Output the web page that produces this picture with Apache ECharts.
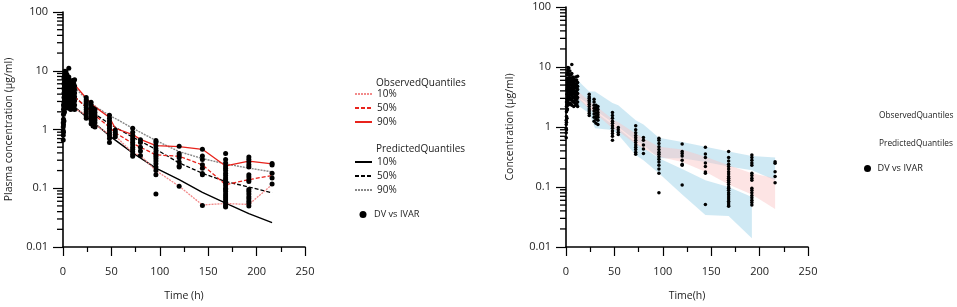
<!DOCTYPE html>
<html style="height: 100%">
<head>
    <meta charset="utf-8">
</head>
<body style="height: 100%; margin: 0; background: #fff">
<div id="container" style="width: 957px; height: 307px"></div>
<script type="text/javascript" src="https://cdn.jsdelivr.net/npm/echarts@6/dist/echarts.min.js"></script>
<script type="text/javascript">
  // observed concentrations (DV) per sampling time (IVAR)
  const obsTimes = [0.25, 0.5, 1, 1.5, 2, 3, 4, 5, 6, 7, 8, 9, 10, 11, 12,
    24, 29, 31, 33, 48, 54, 72, 80, 96, 120, 144, 168, 192, 216];
  const obsConc = [
    [0.66, 0.8, 0.95, 1.1, 1.3],
    [0.9, 1.2, 1.5, 1.8, 2.2, 2.6],
    [1.4, 1.9, 2.4, 2.9, 3.5, 4.2, 5.0, 6.0, 7.5],
    [2.0, 2.6, 3.2, 3.9, 4.6, 5.5, 6.5, 8.0],
    [2.3, 2.8, 3.4, 4.0, 4.7, 5.4, 6.3, 7.4, 8.8, 9.8],
    [2.4, 2.9, 3.3, 3.8, 4.3, 4.9, 5.6, 6.4, 7.3, 8.5, 9.6],
    [2.5, 3.0, 3.5, 4.0, 4.5, 5.1, 5.8, 6.6, 7.6, 8.6],
    [2.4, 2.9, 3.4, 3.9, 4.4, 5.0, 5.7, 6.5, 7.4],
    [2.3, 2.8, 3.3, 3.8, 4.3, 4.9, 5.6, 6.4, 7.8, 11.0],
    [2.6, 3.1, 3.6, 4.1, 4.7, 5.3, 6.0, 6.8],
    [2.2, 2.7, 3.2, 3.7, 4.2, 4.8, 5.5, 6.3],
    [2.5, 3.0, 3.5, 4.0, 4.6, 5.2, 6.0],
    [2.3, 2.8, 3.3, 3.9, 4.5, 5.1, 5.9, 6.8],
    [2.4, 2.9, 3.4, 4.0, 4.6, 5.3, 6.1],
    [2.2, 2.6, 3.1, 3.6, 4.2, 4.8, 5.5, 7.0],
    [1.55, 1.7, 1.85, 2.0, 2.2, 2.4, 2.6, 2.8, 3.0, 3.2, 3.5],
    [1.25, 1.45, 1.65, 1.85, 2.05, 2.3, 2.6, 2.9],
    [1.15, 1.35, 1.5, 1.7, 1.9, 2.1, 2.3],
    [1.1, 1.3, 1.45, 1.6, 1.75, 1.95, 2.2],
    [0.6, 0.7, 0.78, 0.86, 0.95, 1.05, 1.15, 1.25, 1.4, 1.55, 1.75],
    [0.75, 0.82, 0.9, 0.98],
    [0.35, 0.38, 0.42, 0.46, 0.5, 0.55, 0.6, 0.66, 0.72, 0.8, 0.9, 1.05],
    [0.36, 0.43, 0.5, 0.6, 0.67],
    [0.08, 0.17, 0.2, 0.23, 0.26, 0.29, 0.32, 0.35, 0.38, 0.42, 0.47, 0.53, 0.6, 0.65],
    [0.108, 0.23, 0.24, 0.28, 0.33, 0.36, 0.39, 0.52],
    [0.051, 0.169, 0.178, 0.22, 0.25, 0.31, 0.355, 0.46],
    [0.048, 0.05, 0.054, 0.058, 0.063, 0.068, 0.074, 0.08, 0.088, 0.095, 0.1, 0.11, 0.12,
      0.13, 0.14, 0.15, 0.165, 0.18, 0.2, 0.22, 0.24, 0.27, 0.31, 0.39],
    [0.05, 0.055, 0.06, 0.066, 0.072, 0.08, 0.088, 0.095, 0.13, 0.14, 0.155, 0.17, 0.23,
      0.25, 0.28, 0.31, 0.34],
    [0.118, 0.149, 0.18, 0.248, 0.264]
  ];

  // observed quantile lines
  const obsQTimes = [12, 24, 32, 48, 54, 72, 80, 96, 120, 144, 168, 192, 216];
  const obsQ10 = [2.3, 1.75, 1.25, 0.82, 0.78, 0.4, 0.36, 0.2, 0.108, 0.052, 0.055, 0.053, 0.115];
  const obsQ50 = [3.6, 2.4, 1.8, 1.1, 0.88, 0.58, 0.5, 0.37, 0.35, 0.25, 0.115, 0.14, 0.165];
  const obsQ90 = [5.8, 3.4, 2.5, 1.6, 1.05, 0.82, 0.68, 0.53, 0.51, 0.46, 0.24, 0.29, 0.26];

  // predicted quantile lines
  const predQTimes = [12, 24, 36, 48, 72, 96, 120, 144, 168, 192, 216];
  const predQ10 = [2.4, 1.65, 1.15, 0.78, 0.4, 0.22, 0.14, 0.085, 0.056, 0.037, 0.026];
  const predQ50 = [3.6, 2.4, 1.7, 1.25, 0.74, 0.46, 0.27, 0.18, 0.13, 0.105, 0.083];
  const predQ90 = [5.2, 3.3, 2.3, 1.75, 1.05, 0.65, 0.42, 0.32, 0.26, 0.22, 0.19];

  // confidence bands (right panel)
  const bandTimes = [12, 24, 30, 48, 54, 72, 80, 96, 120, 144, 168, 192, 216];
  const upperHi = [6.0, 3.9, 3.9, 2.5, 2.3, 1.3, 1.1, 0.66, 0.56, 0.47, 0.39, 0.33, 0.31];
  const upperLo = [3.2, 2.4, 1.9, 1.2, 1.0, 0.6, 0.5, 0.3, 0.3, 0.26, 0.22, 0.19, 0.13];
  const medHi = [4.0, 2.7, 2.3, 1.35, 1.2, 0.78, 0.65, 0.47, 0.42, 0.32, 0.23, 0.17, 0.14];
  const medLo = [3.0, 2.0, 1.7, 0.95, 0.85, 0.52, 0.44, 0.32, 0.26, 0.18, 0.11, 0.075, 0.043];
  const lowTimes = [12, 24, 30, 48, 54, 72, 80, 96, 120, 144, 168, 192];
  const lowerHi = [3.2, 2.1, 1.8, 1.1, 0.95, 0.55, 0.45, 0.3, 0.2, 0.13, 0.1, 0.068];
  const lowerLo = [2.3, 1.7, 0.95, 0.89, 0.74, 0.34, 0.28, 0.17, 0.075, 0.034, 0.033, 0.014];

  const xTicks = [0, 50, 100, 150, 200, 250];
  const yDecades = [0.01, 0.1, 1, 10];

  const FONT = 'Open Sans';
  const RED = '#e8231c';

  const scatterData = [];
  obsTimes.forEach((t, i) => {
    obsConc[i].forEach(v => scatterData.push([t, v]));
  });

  // log minor ticks 2..9 in every decade
  const minorVals = [];
  yDecades.forEach(d => {
    for (let k = 2; k <= 9; k++) minorVals.push(+(d * k).toPrecision(3));
  });

  function pairs(times, vals) {
    return times.map((t, i) => [t, vals[i]]);
  }

  function xAxisOpt(idx, name) {
    return {
      gridIndex: idx, type: 'value', min: 0, max: 250, interval: 50,
      name: name, nameLocation: 'middle', nameGap: 44,
      nameTextStyle: { fontFamily: FONT, fontSize: 10.5, color: '#222' },
      axisLine: { onZero: false, lineStyle: { color: '#000', width: 1.6 } },
      axisTick: { length: 9, lineStyle: { color: '#000', width: 1.2 } },
      minorTick: { show: true, splitNumber: 2, length: 5, lineStyle: { color: '#000', width: 1.2 } },
      axisLabel: { fontFamily: FONT, fontSize: 11, color: '#222', margin: 19,
        formatter: v => xTicks.indexOf(v) >= 0 ? String(v) : '' },
      splitLine: { show: false }
    };
  }

  function yAxisOpt(idx, name, gap) {
    return {
      gridIndex: idx, type: 'log', logBase: 10, min: 0.01, max: 100,
      name: name, nameLocation: 'middle', nameGap: gap,
      nameTextStyle: { fontFamily: FONT, fontSize: 10.5, color: '#222' },
      axisLine: { lineStyle: { color: '#000', width: 1.6 } },
      axisTick: { length: 10, lineStyle: { color: '#000', width: 1.2 } },
      axisLabel: { fontFamily: FONT, fontSize: 11, color: '#222', margin: 15 },
      splitLine: { show: false }
    };
  }

  // short ticks left of each y axis, one per minor value
  function minorTickSeries(idx) {
    return {
      type: 'scatter', xAxisIndex: idx, yAxisIndex: idx, silent: true, clip: false, z: 10,
      data: minorVals.map(v => [0, v]),
      symbol: 'rect', symbolSize: [6, 1.3], symbolOffset: [-3, 0],
      itemStyle: { color: '#000', opacity: 1 }
    };
  }

  function bandSeries(times, lo, hi, color) {
    return {
      type: 'custom', xAxisIndex: 1, yAxisIndex: 1, silent: true, z: 1,
      data: times.map((t, i) => [t, lo[i], hi[i]]),
      encode: { x: 0, y: [1, 2] },
      renderItem: function (params, api) {
        if (params.dataIndex !== 0) return { type: 'group', children: [] };
        const pts = [];
        times.forEach((t, i) => pts.push(api.coord([t, hi[i]])));
        for (let i = times.length - 1; i >= 0; i--) pts.push(api.coord([times[i], lo[i]]));
        return { type: 'polygon', shape: { points: pts }, style: { fill: color } };
      }
    };
  }

  function qLine(name, times, vals, color, type, width) {
    return {
      name: name, type: 'line', xAxisIndex: 0, yAxisIndex: 0,
      data: pairs(times, vals), symbol: 'none', z: 2,
      lineStyle: { color: color, type: type, width: width },
      itemStyle: { color: color }
    };
  }

  const legendText = { fontFamily: FONT, fontSize: 10, color: '#222' };
  const dvText = { fontFamily: FONT, fontSize: 9.2, color: '#222' };
  const lineLegend = (top, names) => ({
    orient: 'vertical', left: 354, top: top, padding: 0, itemGap: 4,
    itemWidth: 17, itemHeight: 8, selectedMode: false, textStyle: legendText,
    itemStyle: { opacity: 0 },
    data: names,
    formatter: n => n.split(' ')[1]
  });
  const header = (text, x, y, size) => ({
    type: 'text', left: x, top: y,
    style: { text: text, fontFamily: FONT, fontSize: size, fill: '#222' }
  });

  var dom = document.getElementById('container');
  var myChart = echarts.init(dom, null, { renderer: 'canvas' });
  var option = {
    backgroundColor: '#fff',
    animation: false,
    grid: [
      { left: 63, top: 12, width: 242, height: 241 },
      { left: 566, top: 7, width: 242, height: 240 }
    ],
    xAxis: [xAxisOpt(0, 'Time (h)'), xAxisOpt(1, 'Time(h)')],
    yAxis: [
      yAxisOpt(0, 'Plasma concentration (µg/ml)', 48),
      yAxisOpt(1, 'Concentration (µg/ml)', 50)
    ],
    legend: [
      lineLegend(89, ['Observed 10%', 'Observed 50%', 'Observed 90%']),
      lineLegend(157, ['Predicted 10%', 'Predicted 50%', 'Predicted 90%']),
      { orient: 'vertical', left: 359.5, top: 210, padding: 0, itemWidth: 12, itemHeight: 7,
        selectedMode: false, textStyle: dvText, data: ['DV vs IVAR'] },
      { orient: 'vertical', left: 864, top: 164, padding: 0, itemWidth: 10, itemHeight: 7,
        selectedMode: false, textStyle: dvText, data: ['DV vs IVAR'] }
    ],
    graphic: [
      header('ObservedQuantiles', 376, 78, 10),
      header('PredictedQuantiles', 376, 144, 10),
      header('ObservedQuantiles', 879, 112, 8.3),
      header('PredictedQuantiles', 879, 140, 8.3)
    ],
    series: [
      qLine('Predicted 10%', predQTimes, predQ10, '#000', 'solid', 1.4),
      qLine('Predicted 50%', predQTimes, predQ50, '#000', [4, 2], 1.3),
      qLine('Predicted 90%', predQTimes, predQ90, '#888', [2, 1], 1.4),
      qLine('Observed 10%', obsQTimes, obsQ10, '#f28a8a', [2, 1], 1.3),
      qLine('Observed 50%', obsQTimes, obsQ50, RED, [4, 2], 1.3),
      qLine('Observed 90%', obsQTimes, obsQ90, RED, 'solid', 1.3),
      {
        name: 'DV vs IVAR', type: 'scatter', xAxisIndex: 0, yAxisIndex: 0, z: 3,
        data: scatterData, symbolSize: 5, itemStyle: { color: '#000', opacity: 1 }
      },
      bandSeries(bandTimes, upperLo, upperHi, 'rgba(160, 212, 234, 0.5)'),
      bandSeries(lowTimes, lowerLo, lowerHi, 'rgba(160, 212, 234, 0.5)'),
      bandSeries(bandTimes, medLo, medHi, 'rgba(250, 196, 196, 0.45)'),
      {
        name: 'DV vs IVAR', type: 'scatter', xAxisIndex: 1, yAxisIndex: 1, z: 3,
        data: scatterData, symbolSize: 3.5, itemStyle: { color: '#000', opacity: 1 }
      },
      minorTickSeries(0),
      minorTickSeries(1)
    ]
  };
  myChart.setOption(option);
</script>
</body>
</html>
